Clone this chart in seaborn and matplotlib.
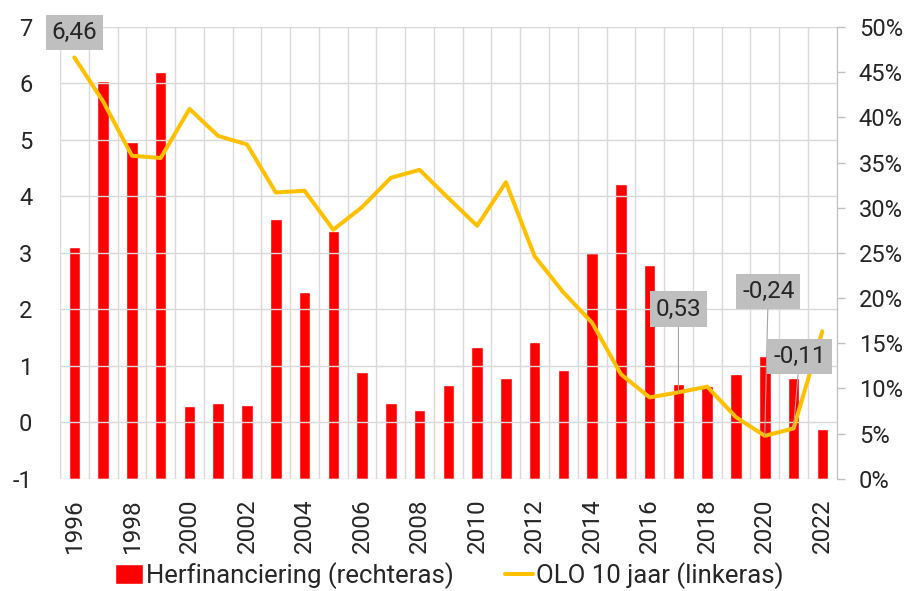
import matplotlib
matplotlib.use("Agg")
import matplotlib.pyplot as plt
import seaborn as sns
from matplotlib.ticker import FixedLocator, FuncFormatter

# Data
years = list(range(1996, 2023))
# Herfinanciering (%, right axis)
refi = [25.6, 44.0, 37.3, 45.0, 8.0, 8.4, 8.2, 28.7, 20.7, 27.4, 11.8, 8.4, 7.6, 10.4,
        14.6, 11.1, 15.1, 12.0, 25.0, 32.6, 23.7, 10.5, 10.3, 11.6, 13.6, 11.2, 5.5]
# OLO 10 jaar (%, left axis)
olo = [6.46, 5.68, 4.72, 4.68, 5.55, 5.07, 4.92, 4.07, 4.10, 3.41, 3.81, 4.33, 4.47, 3.97,
       3.48, 4.25, 2.94, 2.30, 1.76, 0.85, 0.44, 0.53, 0.63, 0.09, -0.24, -0.11, 1.61]

left_ticks = list(range(-1, 8))
right_ticks = list(range(0, 55, 5))
label_years = [1996, 2017, 2020, 2021]
label_offsets = [(0, 18), (0, 60), (2.5, 104), (4.3, 51.6)]

sns.set_style("white")
plt.rcParams["font.family"] = ["Roboto", "DejaVu Sans"]
plt.rcParams["font.size"] = 17

fig = plt.figure(figsize=(9.11, 5.91), dpi=100)
ax_bar = fig.add_axes([0.0659, 0.19, 0.8525, 0.7643])
ax_line = ax_bar.twinx()
ax_bar.yaxis.tick_right()
ax_line.yaxis.tick_left()
ax_line.yaxis.set_label_position("left")

grid_c = "#D9D9D9"

# bars on the right axis
sns.barplot(x=years, y=refi, ax=ax_bar, native_scale=True, color="#FF0000",
            width=0.4, errorbar=None, saturation=1, label="Herfinanciering (rechteras)")
ax_bar.set_ylim(0, 50)
ax_bar.set_yticks(right_ticks)
ax_bar.yaxis.set_major_formatter(FuncFormatter(lambda v, p: f"{v:.0f}%"))
ax_bar.tick_params(axis="y", right=True, length=6, color="#BFBFBF", width=1, pad=10,
                   labelsize=17)

# line on the left axis
sns.lineplot(x=years, y=olo, ax=ax_line, color="#FFC000", lw=2.9,
             label="OLO 10 jaar (linkeras)")
ax_line.set_ylim(-1, 7)
ax_line.set_yticks(left_ticks)
ax_line.yaxis.set_major_formatter(FuncFormatter(lambda v, p: f"{v:.0f}"))
ax_line.tick_params(axis="y", left=True, right=False, length=0, pad=20, labelsize=17)
ax_line.set_axisbelow(True)
ax_line.grid(axis="y", which="major", color=grid_c, lw=1)

# x axis (shared) - labels and vertical grid live on the bar axes
ax_bar.set_xlim(1995.5, 2022.5)
ax_bar.set_xticks(years[::2])
ax_bar.xaxis.set_minor_locator(FixedLocator([y - 0.5 for y in years] + [2022.5]))
ax_bar.tick_params(axis="x", which="both", length=0, pad=14, labelsize=17.5, rotation=90)
ax_bar.set_axisbelow(True)
ax_bar.grid(axis="x", which="minor", color=grid_c, lw=1)
ax_bar.grid(axis="x", which="major", visible=False)
ax_bar.grid(axis="y", visible=False)

ax_line.set_xlabel("")
ax_line.set_ylabel("")
ax_bar.set_xlabel("")
ax_bar.set_ylabel("")
for sp in ["top", "bottom", "left"]:
    ax_bar.spines[sp].set_visible(False)
    ax_line.spines[sp].set_visible(False)
ax_line.spines["right"].set_visible(False)
ax_bar.spines["right"].set_color("#BFBFBF")

# data labels
for yr, off in zip(label_years, label_offsets):
    val = olo[years.index(yr)]
    txt = f"{val:.2f}".replace(".", ",")
    arrow = None if yr == 1996 else dict(arrowstyle="-", color="#A6A6A6", lw=0.8,
                                          shrinkA=0, shrinkB=0)
    ax_line.annotate(txt, xy=(yr, val), xytext=off, textcoords="offset points",
                     ha="center", va="center", fontsize=17.5, color="#262626",
                     bbox=dict(boxstyle="square,pad=0.25", fc="#BFBFBF", ec="none"),
                     arrowprops=arrow, annotation_clip=False)

handles = [ax_bar.containers[0], ax_line.lines[0]]
labels = ["Herfinanciering (rechteras)", "OLO 10 jaar (linkeras)"]
for a in (ax_bar, ax_line):
    if a.get_legend() is not None:
        a.get_legend().remove()
fig.legend(handles, labels, loc="center", bbox_to_anchor=(0.493, 0.026), ncol=2,
           frameon=False, fontsize=18.5, handlelength=1.1, handleheight=0.85,
           handletextpad=0.1, columnspacing=2.0, borderaxespad=0)

fig.savefig("out.png", dpi=100)
